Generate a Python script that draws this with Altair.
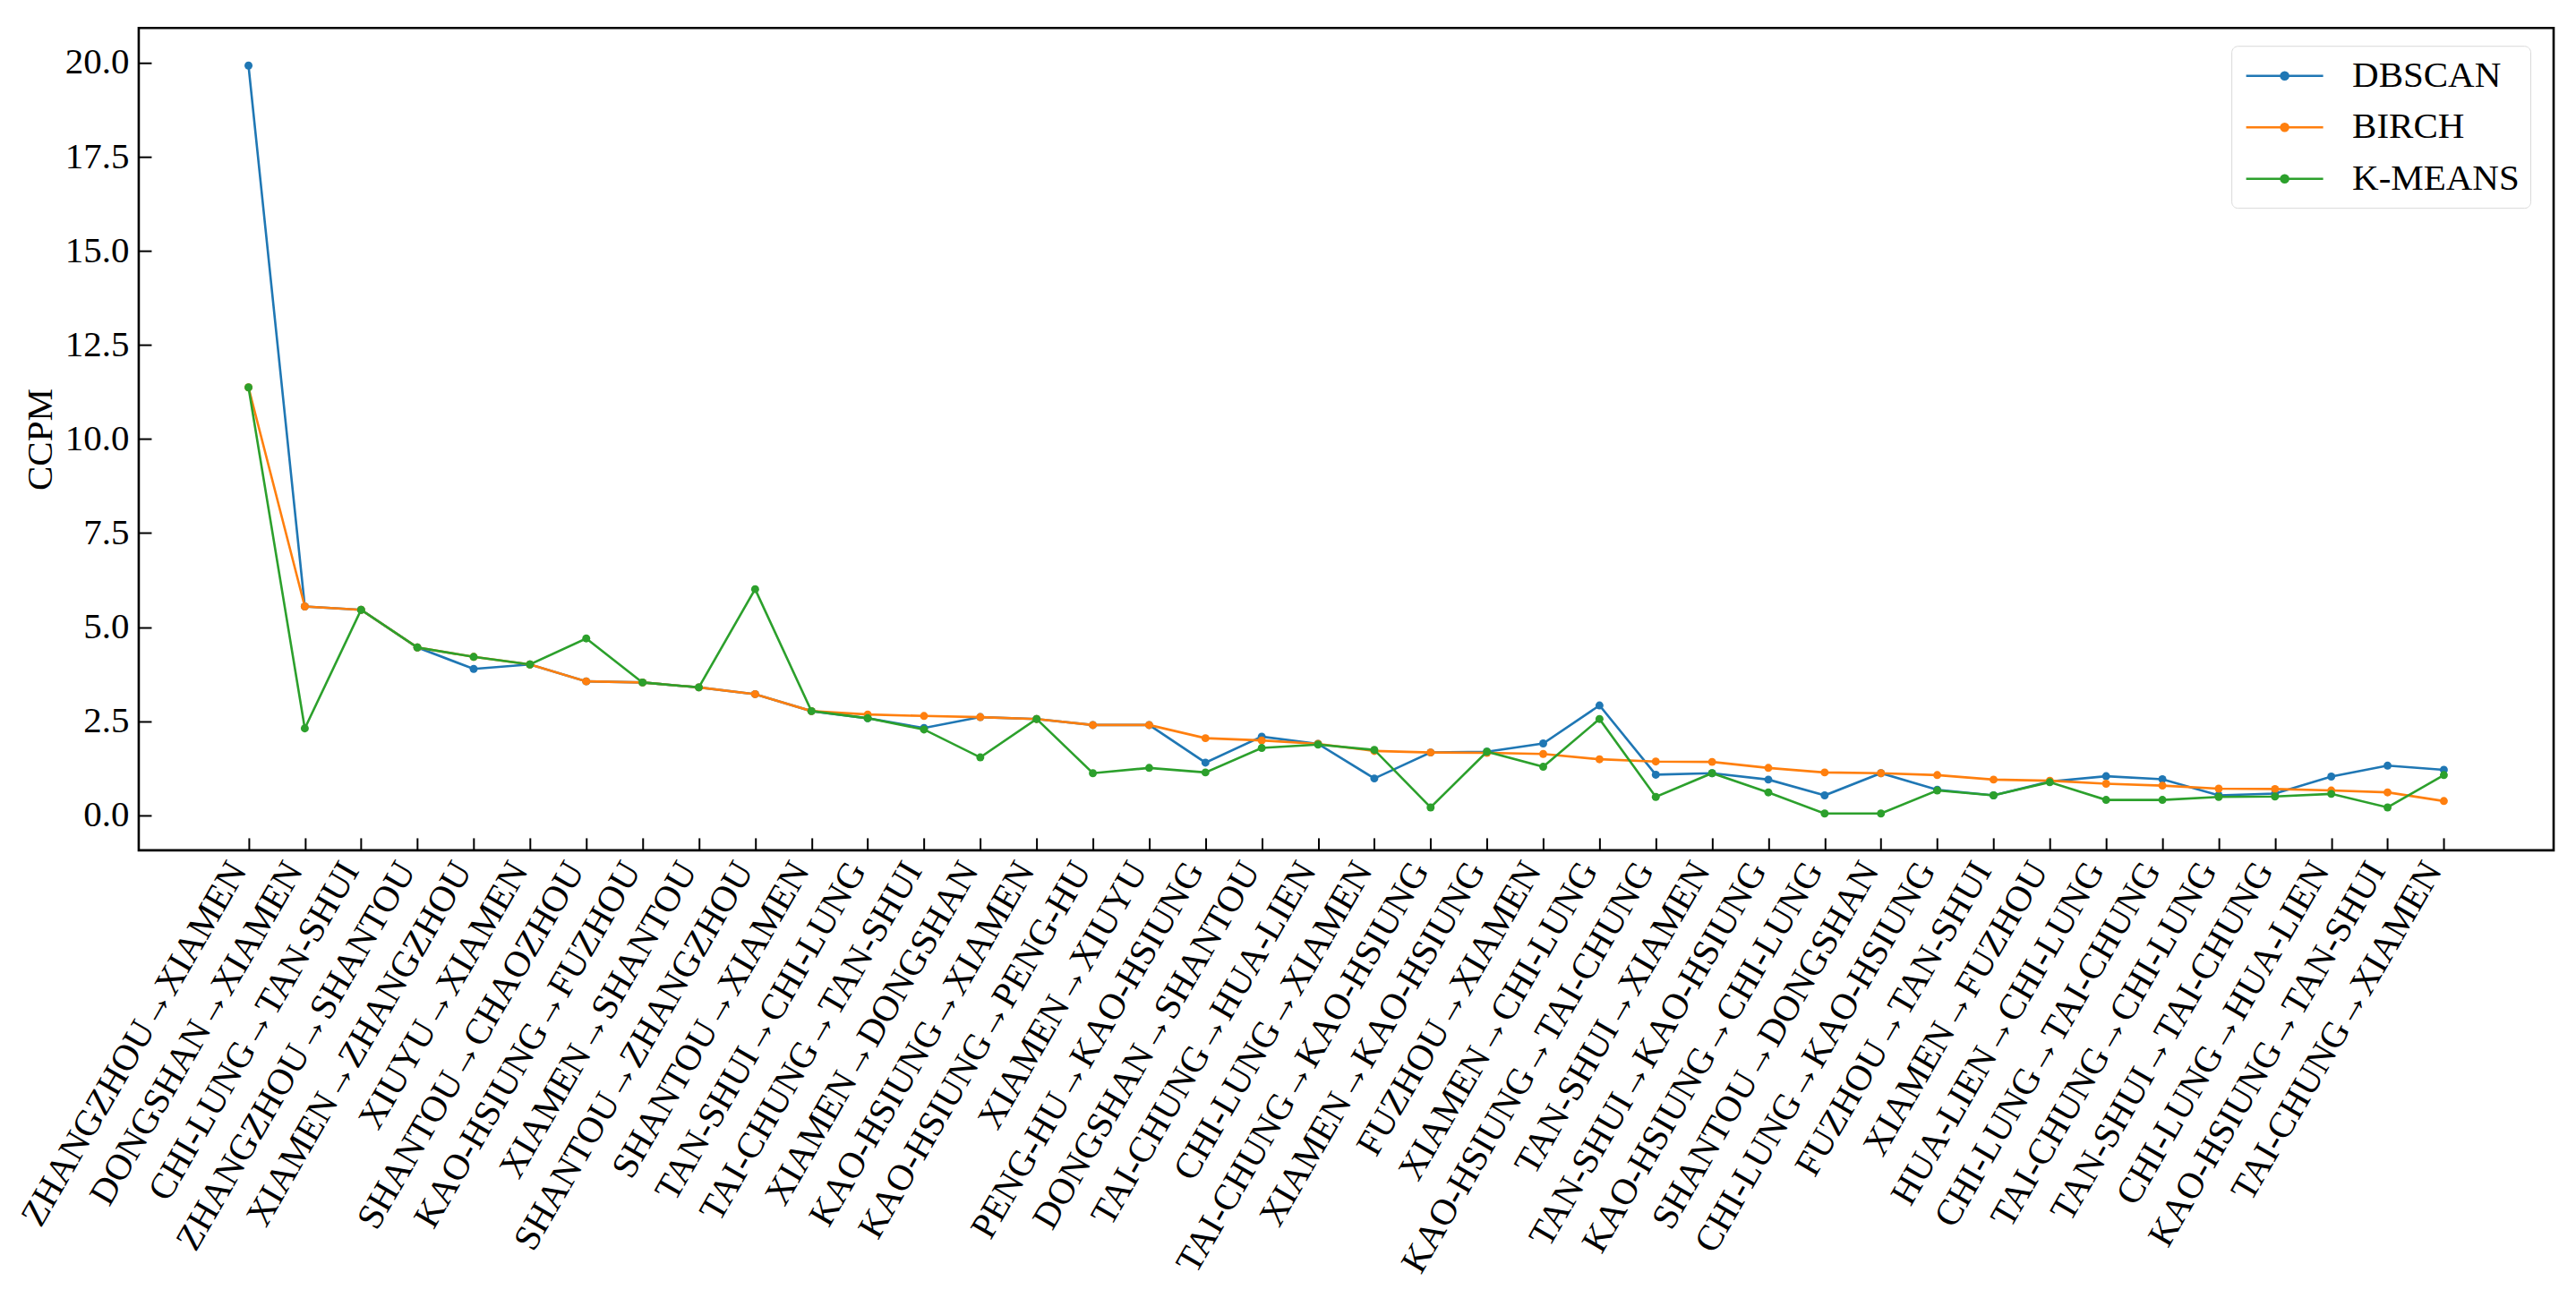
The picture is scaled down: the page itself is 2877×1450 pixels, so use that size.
import altair as alt
import pandas as pd

routes = [
    "ZHANGZHOU→XIAMEN", "DONGSHAN→XIAMEN", "CHI-LUNG→TAN-SHUI", "ZHANGZHOU→SHANTOU",
    "XIAMEN→ZHANGZHOU", "XIUYU→XIAMEN", "SHANTOU→CHAOZHOU", "KAO-HSIUNG→FUZHOU",
    "XIAMEN→SHANTOU", "SHANTOU→ZHANGZHOU", "SHANTOU→XIAMEN", "TAN-SHUI→CHI-LUNG",
    "TAI-CHUNG→TAN-SHUI", "XIAMEN→DONGSHAN", "KAO-HSIUNG→XIAMEN", "KAO-HSIUNG→PENG-HU",
    "XIAMEN→XIUYU", "PENG-HU→KAO-HSIUNG", "DONGSHAN→SHANTOU", "TAI-CHUNG→HUA-LIEN",
    "CHI-LUNG→XIAMEN", "TAI-CHUNG→KAO-HSIUNG", "XIAMEN→KAO-HSIUNG", "FUZHOU→XIAMEN",
    "XIAMEN→CHI-LUNG", "KAO-HSIUNG→TAI-CHUNG", "TAN-SHUI→XIAMEN", "TAN-SHUI→KAO-HSIUNG",
    "KAO-HSIUNG→CHI-LUNG", "SHANTOU→DONGSHAN", "CHI-LUNG→KAO-HSIUNG", "FUZHOU→TAN-SHUI",
    "XIAMEN→FUZHOU", "HUA-LIEN→CHI-LUNG", "CHI-LUNG→TAI-CHUNG", "TAI-CHUNG→CHI-LUNG",
    "TAN-SHUI→TAI-CHUNG", "CHI-LUNG→HUA-LIEN", "KAO-HSIUNG→TAN-SHUI", "TAI-CHUNG→XIAMEN",
]

dbscan = [
    19.92, 5.55, 5.46, 4.46, 3.89, 4.01, 3.56, 3.53, 3.40, 3.22,
    2.77, 2.58, 2.32, 2.61, 2.56, 2.40, 2.40, 1.40, 2.09, 1.90,
    0.98, 1.67, 1.69, 1.91, 2.92, 1.08, 1.12, 0.95, 0.53, 1.12,
    0.68, 0.53, 0.90, 1.04, 0.96, 0.53, 0.58, 1.03, 1.32, 1.21,
]
birch = [
    11.37, 5.55, 5.46, 4.46, 4.21, 4.01, 3.56, 3.53, 3.40, 3.22,
    2.77, 2.68, 2.64, 2.61, 2.56, 2.40, 2.40, 2.05, 1.99, 1.90,
    1.71, 1.67, 1.66, 1.63, 1.49, 1.43, 1.42, 1.26, 1.14, 1.12,
    1.07, 0.95, 0.92, 0.84, 0.79, 0.71, 0.70, 0.66, 0.61, 0.38,
]
kmeans = [
    11.37, 2.31, 5.46, 4.46, 4.21, 4.01, 4.70, 3.53, 3.40, 6.01,
    2.77, 2.58, 2.28, 1.54, 2.56, 1.12, 1.26, 1.14, 1.79, 1.88,
    1.74, 0.21, 1.69, 1.29, 2.56, 0.49, 1.12, 0.61, 0.05, 0.05,
    0.66, 0.53, 0.88, 0.41, 0.41, 0.49, 0.50, 0.57, 0.21, 1.07,
]

series_names = ["DBSCAN", "BIRCH", "K-MEANS"]
series_colors = ["#1f77b4", "#ff7f0e", "#2ca02c"]
y_ticks = [0.0, 2.5, 5.0, 7.5, 10.0, 12.5, 15.0, 17.5, 20.0]

rows = []
for name, vals in zip(series_names, [dbscan, birch, kmeans]):
    for r, v in zip(routes, vals):
        rows.append({"route": r, "CCPM": v, "method": name})
df = pd.DataFrame(rows)

FONT = "Liberation Serif"
W, H = 2698, 919
n = len(routes)
step = W / (n - 1 + 2 * 1.95)
x_range = [1.95 * step, W - 1.95 * step]

legend_symbol = (
    "M-2.15,0H2.15"
    "M-0.2,0a0.2,0.2 0 1,0 0.4,0a0.2,0.2 0 1,0 -0.4,0"
    "M-0.12,0a0.12,0.12 0 1,0 0.24,0a0.12,0.12 0 1,0 -0.24,0"
    "M-0.04,0a0.04,0.04 0 1,0 0.08,0a0.04,0.04 0 1,0 -0.08,0"
)

x_enc = alt.X(
    "route:N",
    sort=routes,
    scale=alt.Scale(type="point", padding=0, range=x_range),
    axis=alt.Axis(
        title=None, labelAngle=300, labelAlign="right", labelBaseline="middle",
        labelFont=FONT, labelFontSize=41, labelColor="black", labelLimit=0,
        labelOverlap=False, labelPadding=16, labelOffset=-12,
        offset=-14, tickSize=14, tickWidth=2, tickColor="black",
        domain=False, grid=False,
    ),
)
y_enc = alt.Y(
    "CCPM:Q",
    scale=alt.Scale(domain=[-0.93, 20.92], nice=False, zero=False),
    axis=alt.Axis(
        values=y_ticks, format=".1f", title="CCPM",
        titleFont=FONT, titleFontSize=41, titleFontWeight="normal", titleColor="black",
        titlePadding=6,
        labelFont=FONT, labelFontSize=41, labelColor="black", labelPadding=11,
        offset=-14, tickSize=14, tickWidth=2, tickColor="black",
        domain=False, grid=False,
    ),
)
color_enc = alt.Color(
    "method:N",
    scale=alt.Scale(domain=series_names, range=series_colors),
    legend=alt.Legend(
        title=None, orient="none", legendX=2338, legendY=20, direction="vertical",
        symbolType=legend_symbol, symbolSize=1600, symbolStrokeWidth=2.6,
        symbolOffset=26, labelOffset=54, labelFont=FONT, labelFontSize=41,
        labelColor="black", labelLimit=0, rowPadding=15.5, padding=12,
        strokeColor="#d9d9d9", fillColor="white", cornerRadius=7,
    ),
)

base = alt.Chart(df).encode(x=x_enc, y=y_enc, color=color_enc)

layers = []
for name in series_names:
    sub = base.transform_filter(alt.datum.method == name)
    layers.append(sub.mark_line(strokeWidth=2.6))
    layers.append(sub.mark_point(filled=True, size=80, opacity=1))

chart = alt.layer(*layers).properties(
    width=W,
    height=H,
    padding={"left": 147, "top": 23, "right": 17, "bottom": 480},
    autosize=alt.AutoSizeParams(type="none"),
    background="white",
).configure_view(
    stroke="black", strokeWidth=2.6
)

chart.save("out.html", embed_options={"renderer": "svg", "actions": False})
